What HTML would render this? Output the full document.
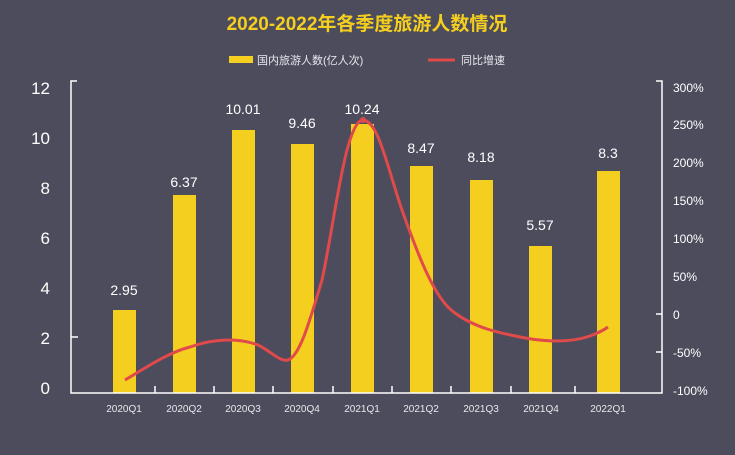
<!DOCTYPE html>
<html><head><meta charset="utf-8"><style>
body{margin:0;background:#4d4c5c;}
svg{display:block;font-family:"Liberation Sans","Noto Sans CJK SC",sans-serif;}
</style></head><body>
<svg width="735" height="455" viewBox="0 0 735 455">
<rect width="735" height="455" fill="#4d4c5c"/>
<text x="367" y="30" text-anchor="middle" font-size="19" font-weight="bold" fill="#f5cf1f">2020-2022年各季度旅游人数情况</text>
<rect x="229" y="56" width="24" height="7" fill="#f5cf1f"/>
<text x="257" y="64" font-size="11" fill="#e8e8ee">国内旅游人数(亿人次)</text>
<line x1="428" y1="60" x2="455" y2="60" stroke="#e04a4a" stroke-width="3"/>
<text x="461" y="64" font-size="11" fill="#e8e8ee">同比增速</text>
<g fill="#f5cf1f">
<rect x="113" y="310" width="23" height="83"/>
<rect x="173" y="195" width="23" height="198"/>
<rect x="232" y="130" width="23" height="263"/>
<rect x="291" y="144" width="23" height="249"/>
<rect x="351" y="124" width="23" height="269"/>
<rect x="410" y="166" width="23" height="227"/>
<rect x="470" y="180" width="23" height="213"/>
<rect x="529" y="246" width="23" height="147"/>
<rect x="597" y="171" width="23" height="222"/>
</g>
<g fill="#ffffff" font-size="14" text-anchor="middle">
<text x="124" y="295">2.95</text><text x="184" y="187">6.37</text><text x="243" y="114">10.01</text>
<text x="302" y="128">9.46</text><text x="362" y="114">10.24</text><text x="421" y="153">8.47</text>
<text x="481" y="162">8.18</text><text x="540" y="230">5.57</text><text x="608" y="158">8.3</text>
</g>
<g stroke="#ffffff" stroke-width="1.5" fill="none">
<polyline points="77,81 71,81 71,393 662,393 662,81 656,81"/>
<line x1="71" y1="337" x2="78" y2="337"/>
<line x1="662" y1="314" x2="656" y2="314"/><line x1="662" y1="352" x2="656" y2="352"/>
<line x1="155" y1="393" x2="155" y2="386"/><line x1="214" y1="393" x2="214" y2="386"/>
<line x1="273" y1="393" x2="273" y2="386"/><line x1="333" y1="393" x2="333" y2="386"/>
<line x1="392" y1="393" x2="392" y2="386"/><line x1="451" y1="393" x2="451" y2="386"/>
<line x1="511" y1="393" x2="511" y2="386"/><line x1="575" y1="393" x2="575" y2="386"/>
</g>
<g fill="#ffffff" font-size="17" text-anchor="end">
<text x="50" y="94">12</text><text x="50" y="144">10</text><text x="50" y="194">8</text>
<text x="50" y="244">6</text><text x="50" y="294">4</text><text x="50" y="344">2</text><text x="50" y="394">0</text>
</g>
<g fill="#ffffff" font-size="12">
<text x="673" y="92">300%</text><text x="673" y="129">250%</text><text x="673" y="167">200%</text>
<text x="673" y="205">150%</text><text x="673" y="243">100%</text><text x="673" y="281">50%</text>
<text x="673" y="319">0</text><text x="673" y="357">-50%</text><text x="673" y="395">-100%</text>
</g>
<g fill="#e8e8ee" font-size="10" text-anchor="middle">
<text x="124" y="412">2020Q1</text><text x="184" y="412">2020Q2</text><text x="243" y="412">2020Q3</text>
<text x="302" y="412">2020Q4</text><text x="362" y="412">2021Q1</text><text x="421" y="412">2021Q2</text>
<text x="481" y="412">2021Q3</text><text x="541" y="412">2021Q4</text><text x="608" y="412">2022Q1</text>
</g>
<path d="M125,380 C150,365 170,352 190,347 C215,338 240,338 258,345 C272,352 280,362 288,360 C300,356 310,320 322,280 C335,220 345,125 362,120 C378,118 388,170 402,210 C418,255 435,300 455,313 C475,328 500,333 520,337 C545,342 570,343 590,336 C598,333 604,330 608,327" fill="none" stroke="#e04a4a" stroke-width="3"/>
<circle cx="363" cy="120" r="3" fill="#e04a4a"/>
</svg>
</body></html>
